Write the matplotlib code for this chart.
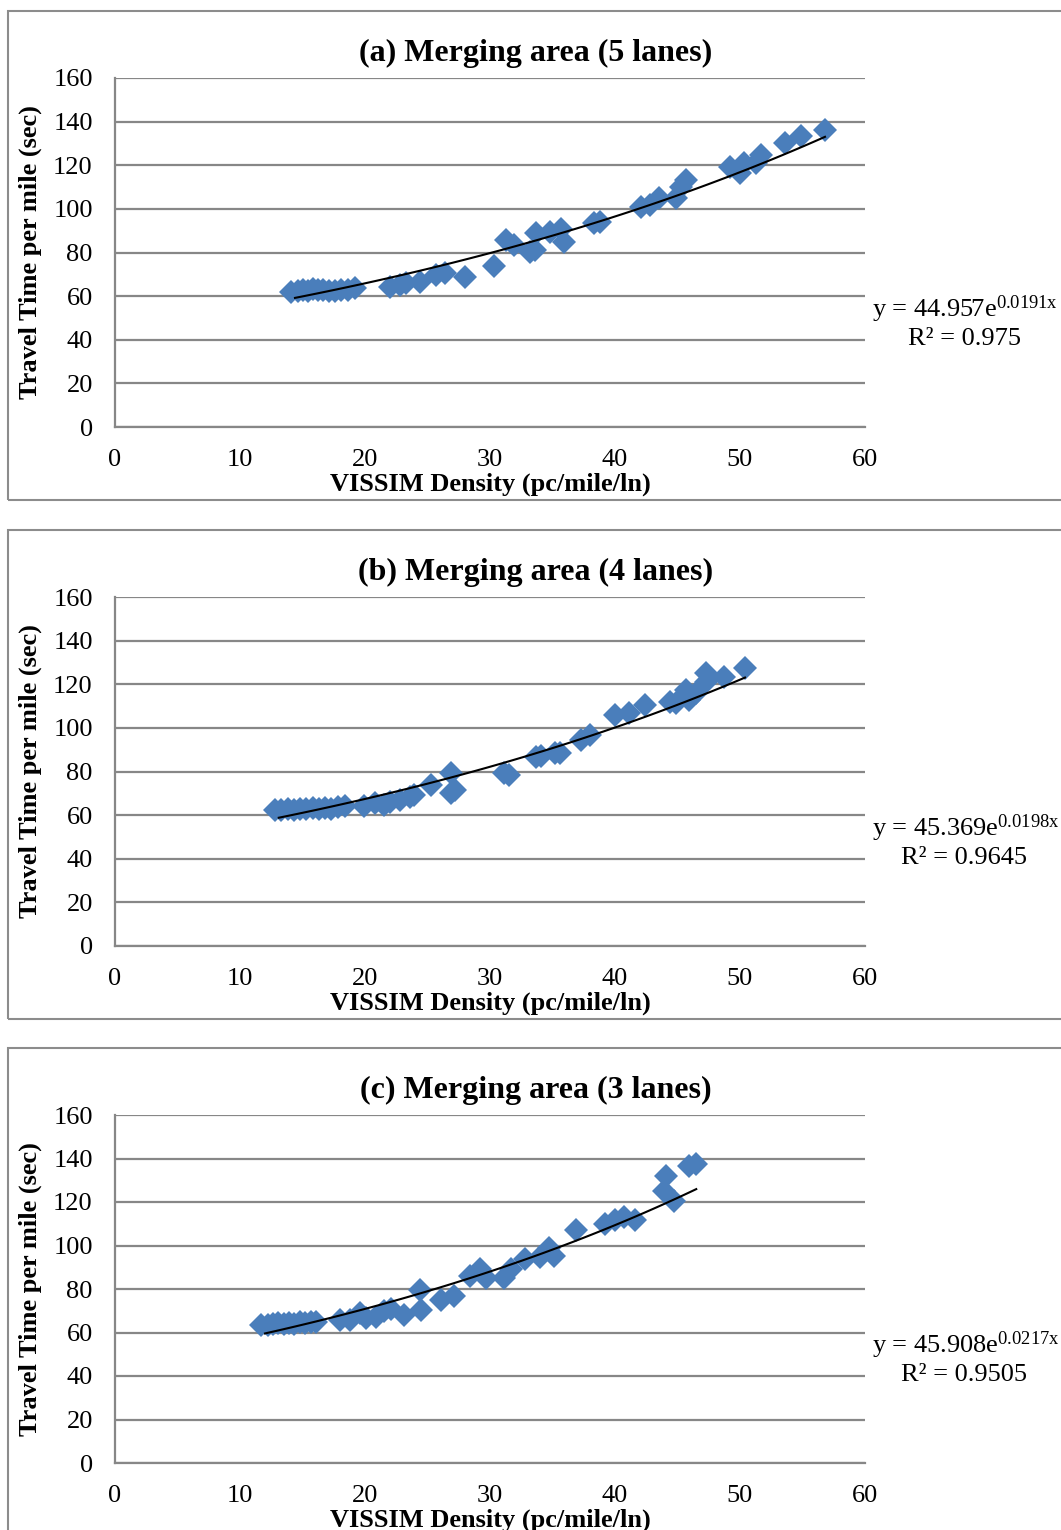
import numpy as np
import matplotlib.pyplot as plt
from matplotlib.patches import Rectangle

plt.rcParams["font.family"] = ["Liberation Serif", "DejaVu Serif"]
plt.rcParams["mathtext.fontset"] = "custom"
plt.rcParams["mathtext.rm"] = "Liberation Serif"
plt.rcParams["mathtext.default"] = "regular"

W, H = 1061, 1530
MARKER_COLOR = "#4A7EBB"
GRID_COLOR = "#878787"

# (a) 5 lanes
a_density = [14.1, 14.6, 15.0, 15.4, 15.8, 16.2, 16.6, 17.1, 17.6, 18.1, 18.6, 19.2,
             22.0, 22.8, 23.3, 24.4, 25.7, 26.4, 28.0, 30.3, 31.3, 31.9, 33.2, 33.6,
             33.7, 34.8, 35.7, 35.9, 38.3, 38.8, 42.1, 42.8, 43.5, 44.9, 45.3, 45.7,
             49.2, 50.0, 50.3, 51.3, 51.7, 53.6, 54.9, 56.8]
a_time = [62.0, 62.5, 63.0, 62.3, 63.2, 62.6, 63.0, 62.4, 62.2, 62.8, 63.0, 63.7,
          64.4, 65.0, 65.9, 66.7, 69.7, 70.5, 68.9, 73.9, 85.8, 83.5, 80.4, 81.2,
          88.8, 89.6, 91.0, 85.0, 93.4, 94.2, 101.0, 101.8, 104.9, 104.9, 110.2, 113.3,
          119.4, 116.4, 120.9, 120.9, 124.8, 130.1, 133.2, 136.2]

# (b) 4 lanes
b_density = [12.8, 13.3, 13.8, 14.3, 14.8, 15.3, 15.8, 16.3, 16.8, 17.3, 17.8, 18.4,
             19.9, 20.8, 21.5, 22.0, 22.8, 23.6, 23.9, 25.3, 26.9, 26.9, 27.2, 31.1,
             31.5, 33.7, 34.1, 35.2, 35.6, 37.3, 38.0, 40.0, 41.1, 42.4, 44.4, 44.9,
             45.7, 45.9, 46.5, 47.3, 47.3, 48.7, 50.4]
b_time = [62.4, 62.2, 62.8, 62.5, 63.0, 62.7, 63.1, 62.9, 63.3, 63.0, 63.5, 64.0,
          64.0, 65.6, 64.7, 66.2, 67.0, 68.5, 69.3, 73.9, 79.2, 70.0, 71.5, 79.2,
          78.5, 86.8, 87.3, 88.4, 88.4, 94.5, 96.8, 105.9, 106.7, 110.4, 111.9, 111.2,
          117.3, 112.8, 115.9, 125.0, 121.2, 123.5, 127.4]

# (c) 3 lanes
c_density = [11.7, 12.2, 12.6, 13.0, 13.5, 13.9, 14.3, 14.8, 15.2, 15.7, 16.1,
             18.0, 18.8, 19.6, 20.1, 20.9, 21.5, 22.1, 23.1, 24.4, 24.5, 26.1, 27.1,
             28.4, 29.2, 29.7, 31.1, 31.7, 32.8, 34.0, 34.7, 35.1, 36.9, 39.2, 40.0,
             40.7, 41.6, 43.9, 44.1, 44.7, 45.9, 46.5]
c_time = [63.3, 63.6, 63.9, 64.2, 63.8, 64.5, 64.1, 64.6, 64.3, 64.8, 64.8,
          65.6, 65.9, 68.8, 66.5, 67.0, 70.0, 71.0, 67.9, 79.4, 70.2, 74.8, 77.0,
          86.2, 89.4, 84.9, 84.9, 89.4, 94.0, 94.5, 99.0, 95.4, 106.9, 110.0, 111.5,
          113.0, 111.5, 125.2, 132.0, 120.6, 136.7, 137.6]

titles = ["(a) Merging area (5 lanes)", "(b) Merging area (4 lanes)", "(c) Merging area (3 lanes)"]
fit_a = [44.957, 45.369, 45.908]
fit_b = [0.0191, 0.0198, 0.0217]
fit_r2 = ["0.975", "0.9645", "0.9505"]

panels = [(a_density, a_time), (b_density, b_time), (c_density, c_time)]
axes_top = [78, 597, 1115]
axes_bottom = [427, 946, 1463]
frame_top = [11, 530, 1048]
frame_bottom = [500, 1019, 1545]


def fy(py):
    # pixel row from the top -> figure fraction
    return 1 - py / H


fig = plt.figure(figsize=(W / 100, H / 100), dpi=100)

for i, (xs, ys) in enumerate(panels):
    # outer chart frame
    fig.patches.append(Rectangle((8 / W, fy(frame_bottom[i])), 1.2, (frame_bottom[i] - frame_top[i]) / H,
                                 transform=fig.transFigure, fill=False, edgecolor="#8c8c8c", linewidth=1.5))

    left, right = 115 / W, 865 / W
    ax = fig.add_axes([left, fy(axes_bottom[i]), right - left, (axes_bottom[i] - axes_top[i]) / H])
    ax.set_xlim(0, 60)
    ax.set_ylim(0, 160)
    ax.set_xticks(range(0, 61, 10))
    ax.set_yticks(range(0, 161, 20))
    ax.yaxis.grid(True, color=GRID_COLOR, linewidth=1.6)
    ax.set_axisbelow(True)
    for s in ["top", "right"]:
        ax.spines[s].set_visible(False)
    for s in ["left", "bottom"]:
        ax.spines[s].set_color(GRID_COLOR)
        ax.spines[s].set_linewidth(1.6)
    ax.tick_params(length=0, labelsize=19)
    ax.tick_params(axis="y", pad=16)
    ax.tick_params(axis="x", pad=16)

    ax.plot(xs, ys, "D", color=MARKER_COLOR, markersize=12, markeredgewidth=0, clip_on=False)
    xfit = np.linspace(min(xs) + 0.3, max(xs), 100)
    ax.plot(xfit, fit_a[i] * np.exp(fit_b[i] * xfit), color="black", linewidth=1.5)

    fig.text(536 / W, fy(frame_top[i] + 42), titles[i], fontsize=23, fontweight="bold",
             ha="center", va="center")
    fig.text(490 / W, fy(axes_bottom[i] + 57), "VISSIM Density (pc/mile/ln)", fontsize=19,
             fontweight="bold", ha="center", va="center")
    fig.text(30 / W, fy((axes_top[i] + axes_bottom[i]) / 2), "Travel Time per mile (sec)",
             fontsize=19, fontweight="bold", rotation=90, ha="center", va="center")

    eq_y = axes_bottom[i] - 118
    fig.text(872 / W, fy(eq_y), r"y = %.3fe$^{%sx}$" % (fit_a[i], ("%.4f" % fit_b[i])),
             fontsize=19, va="center", ha="left")
    fig.text(964 / W, fy(eq_y + 30), "R² = " + fit_r2[i], fontsize=19, va="center", ha="center")

fig.savefig("out.png", dpi=100)
